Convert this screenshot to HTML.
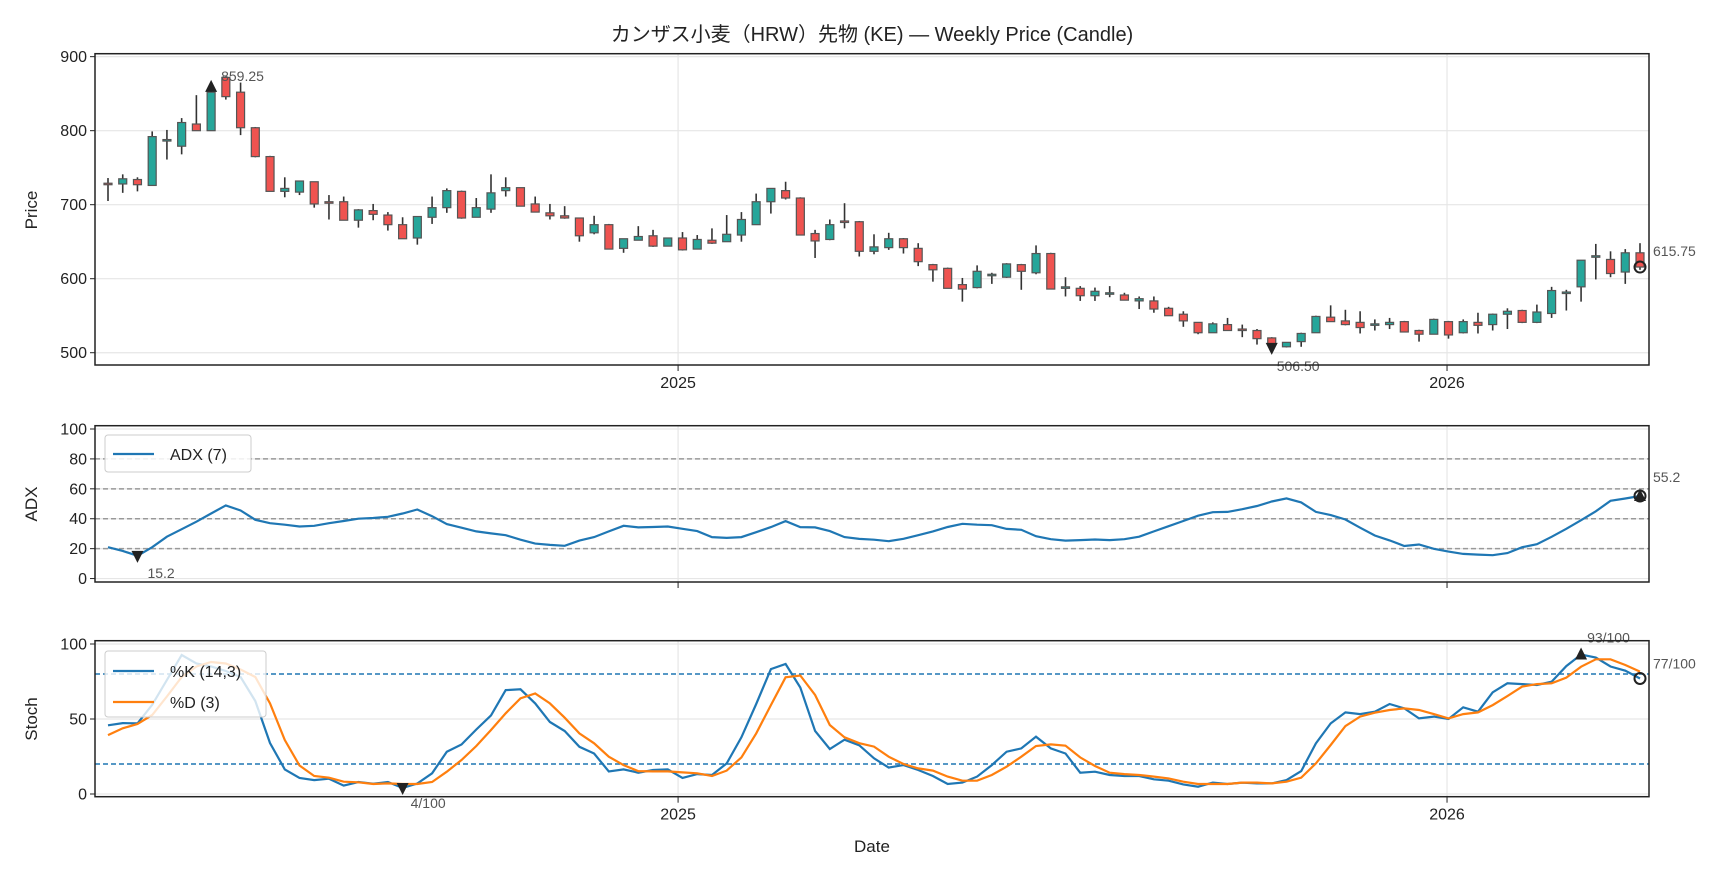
<!DOCTYPE html>
<html><head><meta charset="utf-8">
<style>
html,body{margin:0;padding:0;background:#fff;}
svg{display:block;font-family:"Liberation Sans","Noto Sans CJK JP",sans-serif;}
</style></head>
<body>
<svg id="chart" width="1728" height="878" viewBox="0 0 1728 878" xmlns="http://www.w3.org/2000/svg">
<text x="872" y="41" text-anchor="middle" font-size="20" fill="#222">カンザス小麦（HRW）先物 (KE) — Weekly Price (Candle)</text>
<g id="price-panel"></g>
<g id="adx-panel"></g>
<g id="stoch-panel"></g>
<text transform="translate(37,210) rotate(-90)" text-anchor="middle" font-size="17" fill="#222">Price</text>
<text transform="translate(37,504) rotate(-90)" text-anchor="middle" font-size="17" fill="#222">ADX</text>
<text transform="translate(37,719) rotate(-90)" text-anchor="middle" font-size="17" fill="#222">Stoch</text>
<text x="872" y="852" text-anchor="middle" font-size="17" fill="#222">Date</text>
</svg>
<script>
const opens=[729,728,734,726,788,779,809,800,872,852,804,765,718,717,731,704,704,679,692,686,673,655,683,696,718,683,694,719,723,701,689,685,682,662,673,641,652,658,644,655,640,652,650,659,673,704,719,709,661,653,678,677,637,642,654,641,619,614,592,588,605,602,619,608,634,587,587,577,581,578,570,570,560,552,541,527,538,532,530,520,508,515,527,548,543,541,537,538,542,530,525,542,527,541,538,552,557,541,553,581,589,630,626,609,635];
const highs=[736,741,737,799,801,817,848,859,873,865,805,766,737,732,731,713,711,694,701,690,683,684,711,722,719,709,741,737,723,711,701,698,682,685,674,654,671,666,655,663,659,668,686,690,715,722,731,710,666,680,702,678,660,662,655,648,620,615,601,618,608,621,620,645,635,602,590,588,590,581,576,576,562,556,541,541,547,538,532,521,514,527,550,564,558,556,545,547,543,531,546,543,545,554,553,560,558,565,589,585,625,647,637,640,648];
const lows=[705,716,718,726,761,768,800,800,842,794,764,718,710,713,696,680,679,669,679,665,654,646,674,689,681,683,689,711,698,690,680,681,650,660,640,635,652,643,644,638,640,647,650,650,673,688,707,659,628,652,668,630,633,639,634,617,596,587,569,587,593,601,585,606,586,576,570,570,575,571,559,554,550,535,525,527,530,521,511,506.5,507,508,527,542,537,526,530,532,528,515,525,519,526,526,530,532,540,540,547,557,569,599,602,593,612];
const closes=[728,735,727,792,788,811,800,852,846,804,765,718,722,732,701,703,679,693,687,673,654,684,696,719,682,696,716,723,698,690,685,682,658,673,640,654,657,644,655,639,653,648,660,680,704,722,709,659,651,673,676,637,643,654,642,623,612,587,586,610,606,620,610,634,586,589,577,583,581,571,573,559,550,543,527,539,530,530,519,512,514,526,549,542,538,534,539,541,528,525,545,524,542,537,552,556,541,555,584,582,625,631,607,635,615.75];
const adx=[21,18.5,15.2,21,28,33,38,43.5,48.9,45.5,39.3,37,36,34.8,35.3,37,38.5,40,40.5,41.3,43.5,46.2,41.7,36.4,34,31.5,30.2,29,26,23.4,22.5,21.9,25.4,27.7,31.5,35.3,34.2,34.5,34.8,33.3,31.7,27.7,27.2,27.7,31,34.4,38.4,34.4,34.2,31.7,27.7,26.5,26,25,26.6,29,31.5,34.5,36.6,36,35.7,33.2,32.6,28.3,26.3,25.4,25.7,26.1,25.7,26.3,28,31.5,35,38.5,42,44.4,44.6,46.4,48.5,51.5,53.6,50.9,44.6,42.4,39.5,34,28.8,25.5,21.8,22.8,19.9,18,16.5,16,15.6,17,21,23,27.9,33.3,39,45,52,53.5,55.2];
const stochK=[45.8,47.3,47.1,59.5,76,92.7,87,85,82,78,62,34,16.4,10.7,9.3,10.2,5.6,8,6.9,8,4,7,13.8,28.2,33,43,52.4,69.3,69.8,60.4,48,42,31.5,27,15,16.4,14.2,16,16.4,10.7,13.3,12.7,20.4,37.8,60,83.3,86.7,71,42,30,36.2,32.5,23.8,17.6,19.3,16,12,6.7,7.6,11.6,19.3,28.2,30.4,38.2,30.4,27,14.2,14.9,12.7,12,12,9.8,8.9,6.4,4.9,7.6,6.7,7.6,7.1,7.1,9.3,15.3,33.8,47.1,54.4,53.3,54.9,60,57.1,50.4,51.6,50,57.8,54.9,67.8,73.8,73.3,72.7,74.9,85.3,93,91,85,82.2,77];
const stochD=[39.3,43.8,46.7,52.7,65,78,85,88,87,83,78,60.4,36,19,12,10.9,8.2,7.8,6.7,7.1,6.7,6.7,8,14.9,22.7,32,42.7,53.8,63.8,67,60.4,50.9,40.4,33.8,24.9,19.3,15.3,15.1,15.1,14.4,13.8,12,15.6,24.4,40.4,59.3,77.8,79,66,46,37.8,33.9,31.6,24.9,20,17.1,15.6,11.6,8.9,8.9,12.7,18.2,24.9,32,33.1,32.2,24.4,18.7,14.2,13.3,12.7,11.6,10.4,8.2,6.7,6.7,6.7,7.6,7.6,7.1,8.2,10.9,20.4,32.7,45.3,51.6,54.2,56,57.1,56,53.3,50.4,53.3,54.4,59.3,65.3,71.6,73.3,73.8,77.6,84.9,89.8,89.8,86,81.6];
const yearTickIdx=[38.7,90.9];
const yearTickLabels=['2025','2026'];
const priceTicks=[500,600,700,800,900];
const adxTicks=[0,20,40,60,80,100];
const adxRefLines=[20,40,60,80];
const stochTicks=[0,50,100];
const stochRefLines=[20,80];

const NS='http://www.w3.org/2000/svg';
const L=95,R=1649;
const N=closes.length;
function xOf(i){return 108+i*(1640-108)/(N-1);}
function mk(parent,tag,attrs){const e=document.createElementNS(NS,tag);for(const k in attrs)e.setAttribute(k,attrs[k]);parent.appendChild(e);return e;}
function lin(d0,d1,r0,r1){return v=>r0+(v-d0)*(r1-r0)/(d1-d0);}

const yP=lin(483.4,904,365,53.7);
const yA=lin(-2.3,102.2,582,425.7);
const yS=lin(-1.8,102.2,796.7,640.7);

function frame(g,top,bot,ys,ticks,name,labels){
  for(const t of ticks){
    const gl=mk(g,'line',{x1:L,x2:R,y1:ys(t),y2:ys(t),stroke:'#e6e6e6','stroke-width':1.2});
    
    
    const tk=mk(g,'line',{x1:L-5,x2:L,y1:ys(t),y2:ys(t),stroke:'#222','stroke-width':1});
    
    
    const tl=mk(g,'text',{x:L-8,y:ys(t)+5.5,'text-anchor':'end','font-size':16,fill:'#222'});
    tl.textContent=t;
    
    
  }
  yearTickIdx.forEach((ti,k)=>{
    const x=xOf(ti);
    const vg=mk(g,'line',{x1:x,x2:x,y1:top,y2:bot,stroke:'#e6e6e6','stroke-width':1.2});
    
    
    const xt=mk(g,'line',{x1:x,x2:x,y1:bot,y2:bot+6,stroke:'#222','stroke-width':1});
    
    
    if(labels){
      const lt=mk(g,'text',{x:x,y:bot+23,'text-anchor':'middle','font-size':16,fill:'#222'});
      lt.textContent=yearTickLabels[k];
      
      
    }
  });
}
function spine(g,top,bot,name){
  const r=mk(g,'rect',{x:L,y:top,width:R-L,height:bot-top,fill:'none',stroke:'#222','stroke-width':1.5});
  
  
}
function note(g,x,y,txt,name,anchor){
  const t=mk(g,'text',{x:x,y:y,'font-size':14,fill:'#555','text-anchor':anchor||'start'});
  t.textContent=txt;
  
  
}
function tri(g,x,y,up,name){
  const d=up?`M${x-6},${y+5}L${x+6},${y+5}L${x},${y-7}Z`:`M${x-6},${y-5}L${x+6},${y-5}L${x},${y+7}Z`;
  const p=mk(g,'path',{d:d,fill:'#222'});
  
  
}
function circ(g,x,y,name){
  const c=mk(g,'circle',{cx:x,cy:y,r:5.5,fill:'none',stroke:'#222','stroke-width':2});
  
  
}

// Price panel
const gp=document.getElementById('price-panel');
frame(gp,53.7,365,yP,priceTicks,'price',true);
for(let i=0;i<N;i++){
  const x=xOf(i),o=opens[i],c=closes[i];
  const up=c>=o;
  const w=mk(gp,'line',{x1:x,x2:x,y1:yP(highs[i]),y2:yP(lows[i]),stroke:'#333','stroke-width':1.6});
  
  
  const top=yP(Math.max(o,c)),bot=yP(Math.min(o,c));
  const b=mk(gp,'rect',{x:x-4,y:top,width:8,height:Math.max(bot-top,1.5),fill:up?'#26a69a':'#ef5350',stroke:'#555','stroke-width':1.2});
  
  
}
tri(gp,xOf(7),yP(859.25),true,'price-max-marker');
note(gp,xOf(7)+10,yP(859.25)-6,'859.25','price-max-label');
let minI=0;for(let i=1;i<N;i++)if(lows[i]<lows[minI])minI=i;
tri(gp,xOf(minI),yP(lows[minI]),false,'price-min-marker');
note(gp,xOf(minI)+5,yP(lows[minI])+23,lows[minI].toFixed(2),'price-min-label');
circ(gp,xOf(N-1),yP(closes[N-1]),'price-last-marker');
note(gp,R+4,yP(closes[N-1])-11,closes[N-1].toFixed(2),'price-last-label');
spine(gp,53.7,365,'price');

// ADX panel
const ga=document.getElementById('adx-panel');
frame(ga,425.7,582,yA,adxTicks,'adx',false);
for(const v of adxRefLines){
  const l=mk(ga,'line',{x1:L,x2:R,y1:yA(v),y2:yA(v),stroke:'#999','stroke-width':1.5,'stroke-dasharray':'5,3'});
  
  
}
const adxPath=mk(ga,'path',{d:adx.map((v,i)=>(i?'L':'M')+xOf(i).toFixed(1)+','+yA(v).toFixed(1)).join(''),fill:'none',stroke:'#1f77b4','stroke-width':2.2});


let aMin=0;for(let i=1;i<N;i++)if(adx[i]<adx[aMin])aMin=i;
tri(ga,xOf(aMin),yA(adx[aMin]),false,'adx-min-marker');
note(ga,xOf(aMin)+10,yA(adx[aMin])+22,adx[aMin].toFixed(1),'adx-min-label');
tri(ga,xOf(N-1),yA(adx[N-1]),true,'adx-last-marker');
circ(ga,xOf(N-1),yA(adx[N-1]),'adx-last-circle');
note(ga,R+4,yA(adx[N-1])-14,adx[N-1].toFixed(1),'adx-last-label');
spine(ga,425.7,582,'adx');
const al=mk(ga,'g',{});


mk(al,'rect',{x:105,y:435,width:146,height:37,rx:3,fill:'#fff','fill-opacity':0.85,stroke:'#ccc'});
mk(al,'line',{x1:113,x2:154,y1:454,y2:454,stroke:'#1f77b4','stroke-width':2.2});
const alt=mk(al,'text',{x:170,y:460,'font-size':16,fill:'#222'});alt.textContent='ADX (7)';

// Stoch panel
const gs=document.getElementById('stoch-panel');
frame(gs,640.7,796.7,yS,stochTicks,'stoch',true);
for(const v of stochRefLines){
  const l=mk(gs,'line',{x1:L,x2:R,y1:yS(v),y2:yS(v),stroke:'#1f77b4','stroke-width':1.5,'stroke-dasharray':'5,3'});
  
  
}
const kp=mk(gs,'path',{d:stochK.map((v,i)=>(i?'L':'M')+xOf(i).toFixed(1)+','+yS(v).toFixed(1)).join(''),fill:'none',stroke:'#1f77b4','stroke-width':2.2});


const dp=mk(gs,'path',{d:stochD.map((v,i)=>(i?'L':'M')+xOf(i).toFixed(1)+','+yS(v).toFixed(1)).join(''),fill:'none',stroke:'#ff7f0e','stroke-width':2.2});


let kMin=0,kMax=0;for(let i=1;i<N;i++){if(stochK[i]<stochK[kMin])kMin=i;if(stochK[i]>stochK[kMax])kMax=i;}
tri(gs,xOf(kMin),yS(stochK[kMin]),false,'stoch-min-marker');
note(gs,xOf(kMin)+8,yS(stochK[kMin])+20,Math.round(stochK[kMin])+'/100','stoch-min-label');
tri(gs,xOf(kMax),yS(stochK[kMax]),true,'stoch-max-marker');
note(gs,xOf(kMax)+6,yS(stochK[kMax])-12,Math.round(stochK[kMax])+'/100','stoch-max-label');
circ(gs,xOf(N-1),yS(stochK[N-1]),'stoch-last-marker');
note(gs,R+4,yS(stochK[N-1])-10,Math.round(stochK[N-1])+'/100','stoch-last-label');
spine(gs,640.7,796.7,'stoch');
const sl=mk(gs,'g',{});


mk(sl,'rect',{x:105,y:651,width:161,height:66,rx:3,fill:'#fff','fill-opacity':0.8,stroke:'#ccc'});
mk(sl,'line',{x1:113,x2:154,y1:671,y2:671,stroke:'#1f77b4','stroke-width':2.2});
const k1=mk(sl,'text',{x:170,y:677,'font-size':16,fill:'#222'});k1.textContent='%K (14,3)';
mk(sl,'line',{x1:113,x2:154,y1:702,y2:702,stroke:'#ff7f0e','stroke-width':2.2});
const k2=mk(sl,'text',{x:170,y:708,'font-size':16,fill:'#222'});k2.textContent='%D (3)';
</script>
</body></html>
